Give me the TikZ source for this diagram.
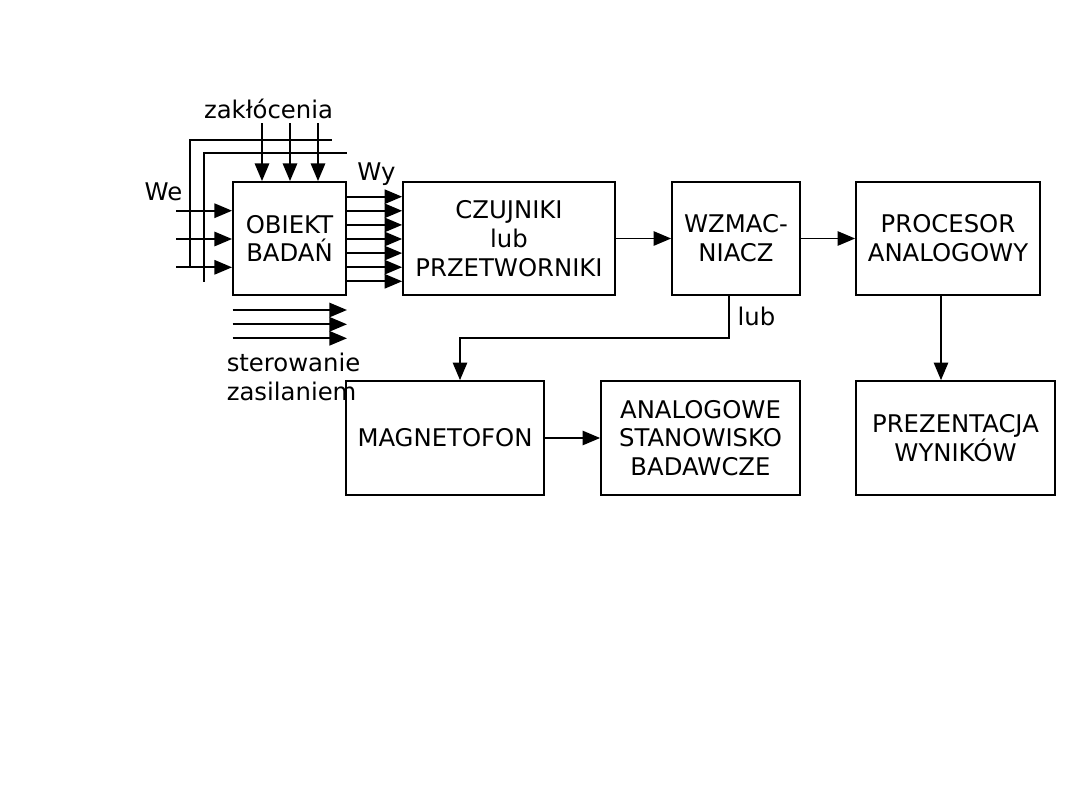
\documentclass[tikz,border=0pt]{standalone}
\usepackage{fontspec}
\setmainfont{DejaVu Sans}
\usetikzlibrary{arrows.meta}
\tikzset{
  flowarrow/.style={-{Triangle[length=4.4mm, width=3.6mm]}, line width=1.2pt},
  plainline/.style={line width=1.2pt},
  blok/.style={draw, line width=1.2pt, minimum height=2.83cm, align=center, inner sep=1pt},
  opis/.style={inner sep=0pt}
}
\begin{document}
\begin{tikzpicture}[x=0.025cm, y=-0.025cm, every node/.style={font=\fontsize{17.3}{20.5}\selectfont}]
  \useasboundingbox (0,0) rectangle (1080,810);
  \node[blok, minimum width=2.83cm] (obiekt) at (289.5,238.5) {OBIEKT\\BADAŃ};
  \node[blok, minimum width=5.3cm] (czujniki) at (509,238.5) {CZUJNIKI\\lub\\PRZETWORNIKI};
  \node[blok, minimum width=3.2cm] (wzmac) at (736,238.5) {WZMAC-\\NIACZ};
  \node[blok, minimum width=4.6cm] (procesor) at (948,238.5) {PROCESOR\\ANALOGOWY};
  \node[blok, minimum width=4.95cm, minimum height=2.85cm] (magnetofon) at (445,438) {MAGNETOFON};
  \node[blok, minimum width=4.975cm, minimum height=2.85cm] (stanowisko) at (700.5,438) {ANALOGOWE\\STANOWISKO\\BADAWCZE};
  \node[blok, minimum width=4.975cm, minimum height=2.85cm] (prezentacja) at (955.5,438) {PREZENTACJA\\WYNIKÓW};

  \node[opis, anchor=base] (zaklocenia) at (268.5,118) {zakłócenia};
  \node[opis, anchor=base] (we) at (163.5,200) {We};
  \node[opis, anchor=base] (wy) at (376.5,180) {Wy};
  \node[opis, anchor=base] (lub) at (756.5,325) {lub};
  \node[opis, anchor=base west, align=left] (sterowanie) at (226.5,400) {sterowanie\\zasilaniem};

  \foreach \x [count=\i] in {262,290,318} {
    \coordinate (z\i) at (\x,123);
    \draw[flowarrow] (z\i) -- (z\i |- obiekt.north);
  }
  \foreach \y [count=\i] in {210.7,239,267.3} {
    \coordinate (we\i) at (176,\y);
    \draw[flowarrow] (we\i) -- (we\i -| obiekt.west);
  }
  \foreach \k in {0,...,6} {
    \coordinate (wy\k) at (346,196.7+14.1*\k);
    \draw[flowarrow] (wy\k -| obiekt.east) -- (wy\k -| czujniki.west);
  }
  \foreach \y [count=\i] in {310,324.3,338.3} {
    \coordinate (st\i) at (232.7,\y);
    \draw[flowarrow] (st\i) -- (st\i -| obiekt.east);
  }

  \coordinate (fbA) at (190,267.3);
  \coordinate (fbB) at (190,140);
  \coordinate (fbC) at (332,140);
  \draw[plainline] (fbA) -- (fbB) -- (fbC);
  \coordinate (fbD) at (204,281.7);
  \coordinate (fbE) at (204,153);
  \coordinate (fbF) at (347,153);
  \draw[plainline] (fbD) -- (fbE) -- (fbF);

  \draw[flowarrow] (czujniki) -- (wzmac);
  \draw[flowarrow] (wzmac) -- (procesor);
  \draw[flowarrow] (magnetofon) -- (stanowisko);
  \coordinate (pp) at (941,0);
  \draw[flowarrow] (pp |- procesor.south) -- (pp |- prezentacja.north);
  \coordinate (lubA) at (729,338);
  \coordinate (lubB) at (460,338);
  \draw[flowarrow] (lubA |- wzmac.south) -- (lubA) -- (lubB) -- (lubB |- magnetofon.north);
\end{tikzpicture}
\end{document}
